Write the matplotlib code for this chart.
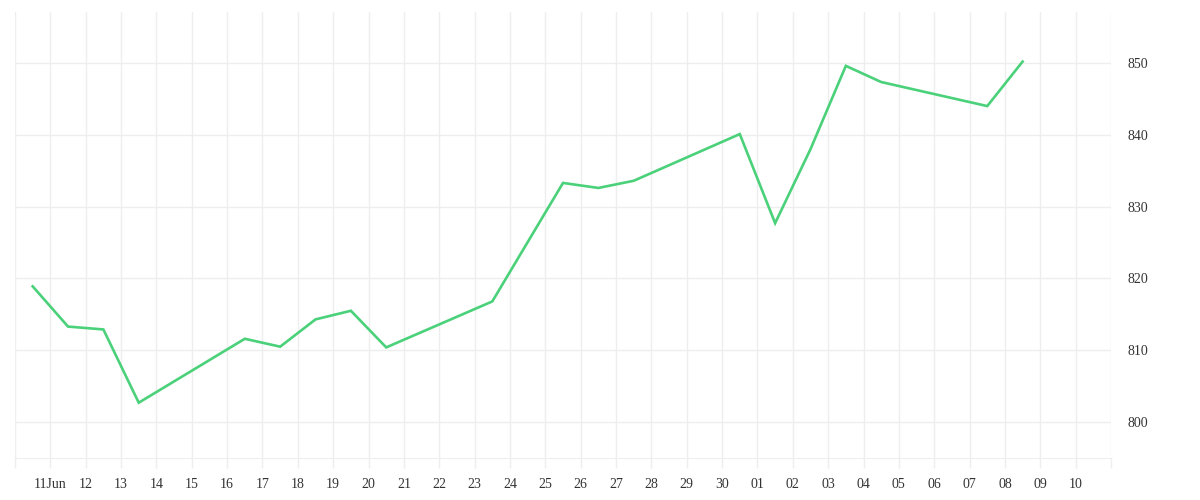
import matplotlib
matplotlib.use("Agg")
import matplotlib.pyplot as plt
import matplotlib.dates as mdates
import pandas as pd

# daily closes, stamped at noon (weekends missing)
dates = [
    "2025-06-10", "2025-06-11", "2025-06-12", "2025-06-13",
    "2025-06-16", "2025-06-17", "2025-06-18", "2025-06-19", "2025-06-20",
    "2025-06-23", "2025-06-25", "2025-06-26", "2025-06-27",
    "2025-06-30", "2025-07-01", "2025-07-02", "2025-07-03", "2025-07-04",
    "2025-07-07", "2025-07-08",
]
values = [
    818.9, 813.3, 812.9, 802.7,
    811.6, 810.5, 814.3, 815.5, 810.4,
    816.8, 833.3, 832.6, 833.6,
    840.1, 827.7, 838.0, 849.6, 847.35,
    844.0, 850.2,
]
tick_labels = ["11Jun"] + [f"{d:02d}" for d in range(12, 31)] + [f"{d:02d}" for d in range(1, 11)]
y_ticks = [800, 810, 820, 830, 840, 850]

LINE_COLOR = "#4ad17a"
GRID_COLOR = "#eeeeee"
TEXT_COLOR = "#333333"

x = pd.to_datetime(dates) + pd.Timedelta(hours=12)

fig = plt.figure(figsize=(12, 5), dpi=100)
ax = fig.add_axes([15 / 1200, 42 / 500, 1096 / 1200, 446 / 500])

ax.plot(x, values, color=LINE_COLOR, linewidth=1.9, solid_joinstyle="miter")

ax.set_xlim(pd.Timestamp("2025-06-10"), pd.Timestamp("2025-07-11"))
ax.set_ylim(795, 857.1)

tick_days = pd.date_range("2025-06-10", "2025-07-11", freq="D")
ax.set_xticks(tick_days)
ax.set_xticklabels([""] + tick_labels + [""])
ax.set_yticks(y_ticks)
ax.yaxis.tick_right()

ax.grid(True, color=GRID_COLOR, linewidth=1)
ax.set_axisbelow(True)
for side in ["top", "left", "right"]:
    ax.spines[side].set_visible(False)
ax.spines["bottom"].set_color(GRID_COLOR)

ax.tick_params(axis="x", length=7.2, width=1, color=GRID_COLOR, pad=7,
               labelsize=10, labelcolor=TEXT_COLOR)
ax.tick_params(axis="y", length=0, pad=12, labelsize=10, labelcolor=TEXT_COLOR)
for lbl in ax.get_xticklabels() + ax.get_yticklabels():
    lbl.set_family("Liberation Serif")

fig.savefig("out.png", dpi=100)
